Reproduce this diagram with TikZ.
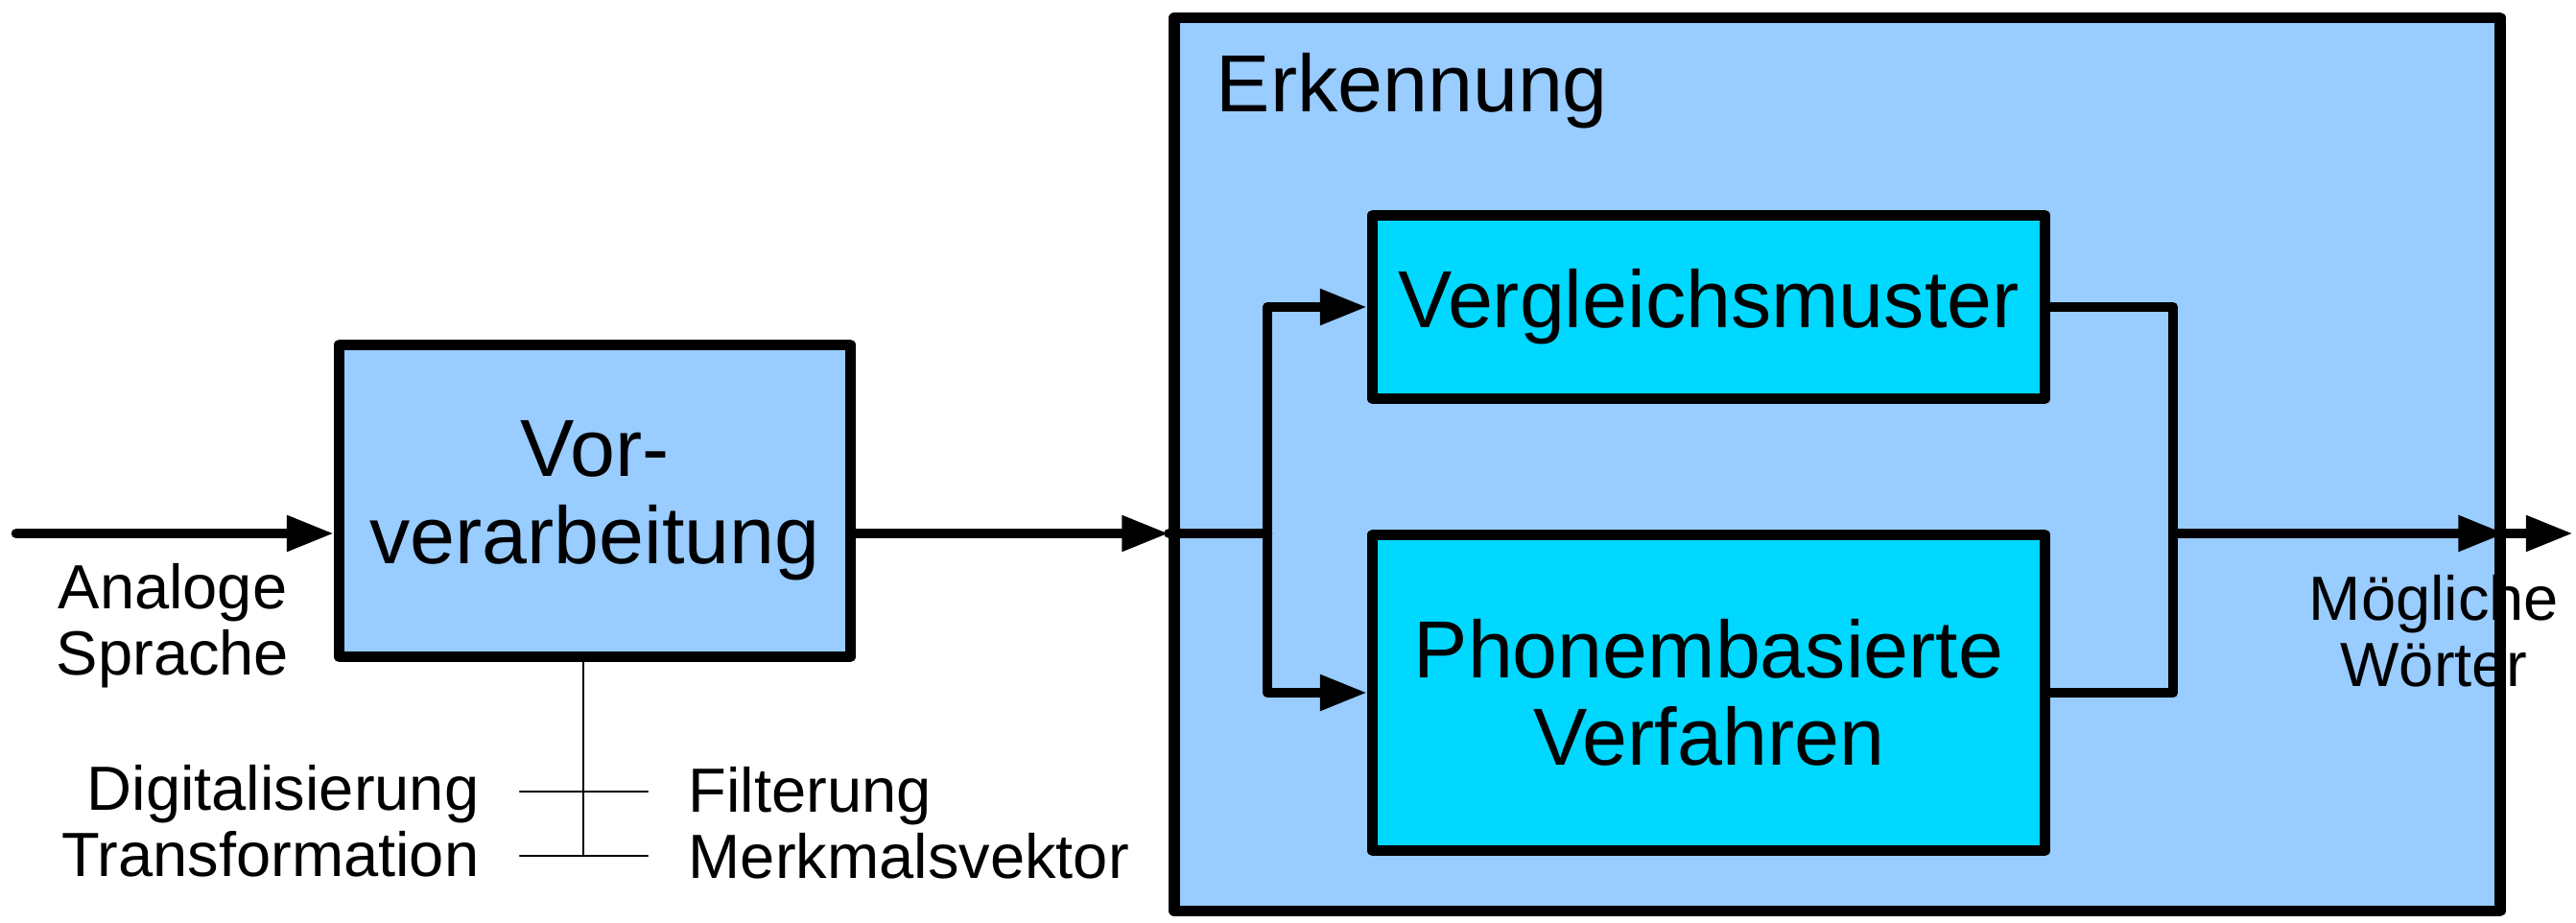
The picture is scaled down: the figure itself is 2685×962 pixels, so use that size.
\documentclass[tikz,border=0pt]{standalone}
\usepackage{fontspec}
\setmainfont{Liberation Sans}
\usetikzlibrary{arrows.meta}
\definecolor{boxblue}{RGB}{153,204,255}
\definecolor{boxcyan}{RGB}{0,216,255}
\newcommand{\bigtext}{\fontsize{24}{26}\selectfont}
\newcommand{\smalltext}{\fontsize{18.5}{19.5}\selectfont}

\begin{document}
\begin{tikzpicture}[x=0.01cm, y=-0.01cm, line cap=round, line join=round,
  every node/.style={font=\smalltext},
  block/.style={draw, line width=3.2pt, fill=boxblue, inner sep=0pt, align=center, font=\bigtext},
  inner block/.style={block, fill=boxcyan},
  flow/.style={line width=3pt, -{Triangle[length=14pt,width=10pt]}},
  wire/.style={line width=3pt},
  tick/.style={line width=0.7pt}]

\useasboundingbox (0,0) rectangle (2685,962);

% ---------- preprocessing ----------
\node[block, minimum width=5.32cm, minimum height=3.25cm] (vor) at (620,522) {Vor-\\verarbeitung};
\coordinate (in) at (17,556);
\draw[flow] (in) -- (in -| vor.west);
\node[align=center] (analog) at (180,652) {Analoge\\Sprache};

\coordinate (tap) at (608,892);
\coordinate (t1l) at (542,825);
\coordinate (t1r) at (675,825);
\coordinate (t2l) at (542,892);
\coordinate (t2r) at (675,892);
\draw[tick] (tap |- vor.south) -- (tap);
\draw[tick] (t1l) -- (t1r);
\draw[tick] (t2l) -- (t2r);
\node[anchor=east, align=right, inner sep=0pt] (steps l) at (500,856) {Digitalisierung\\Transformation};
\node[anchor=west, align=left, inner sep=0pt] (steps r) at (717,858) {Filterung\\Merkmalsvektor};

% ---------- recognition ----------
\node[block, minimum width=13.81cm, minimum height=9.30cm] (erk) at (1915,484) {};
\node[anchor=base west, inner sep=0pt, font=\bigtext] (erk label) at (1267,117) {Erkennung};
\node[inner block, minimum width=7.00cm, minimum height=1.91cm] (vgl) at (1781,320) {Vergleichsmuster};
\node[inner block, minimum width=7.00cm, minimum height=3.29cm] (pho) at (1781,722) {Phonembasierte\\Verfahren};

\draw[flow] (vor.east |- in) -- (in -| erk.west);
\coordinate (split) at (1321,556);
\coordinate (join) at (2265,556);
\draw[wire] (in -| erk.west) -- (split);
\draw[flow] (split) |- (vgl.west);
\draw[flow] (split) |- (pho.west);
\draw[wire] (vgl.east) -| (join);
\draw[wire] (pho.east) -| (join);
\draw[flow] (join) -- (join -| erk.east);

% ---------- output ----------
\coordinate (out) at (2682,556);
\draw[flow] (join -| erk.east) -- (out);
\node[align=center] (words) at (2537,658) {Mögliche\\Wörter};

\end{tikzpicture}
\end{document}
